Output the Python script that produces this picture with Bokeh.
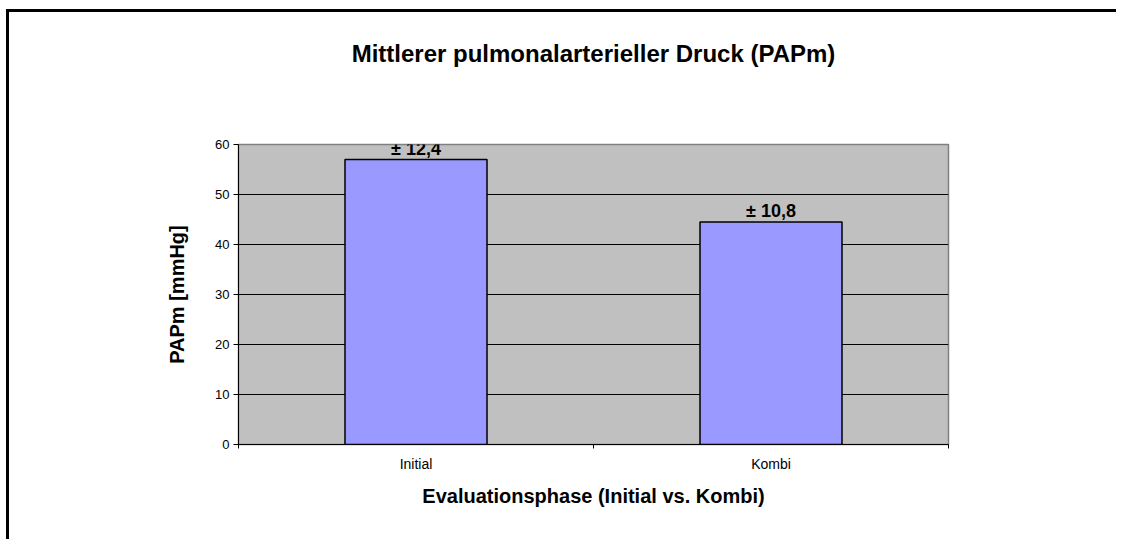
from bokeh.plotting import figure
from bokeh.models import Range1d, FixedTicker, ColumnDataSource, LabelSet, LinearAxis
from bokeh.core.properties import value
from bokeh.embed import file_html
from bokeh.resources import INLINE

# ---- data ----
categories = ["Initial", "Kombi"]
means = [57.0, 44.5]
sds = [12.4, 10.8]
y_ticks = [0, 10, 20, 30, 40, 50, 60]
title_text = "Mittlerer pulmonalarterieller Druck (PAPm)"
x_label = "Evaluationsphase (Initial vs. Kombi)"
y_label = "PAPm [mmHg]"

FONT = "Liberation Sans"

xpos = [i + 0.5 for i in range(len(categories))]
sd_text = [("± %.1f" % v).replace(".", ",") for v in sds]
src = ColumnDataSource(dict(x=xpos, top=means, label=sd_text))

W, H = 1110, 530
p = figure(width=W, height=H, output_backend="svg", toolbar_location=None,
           x_range=Range1d(0, len(categories)), y_range=Range1d(y_ticks[0], y_ticks[-1]),
           min_border_left=229, min_border_right=171, min_border_top=132, min_border_bottom=98)
p.styles = {"border-left": "3px solid black", "border-top": "3px solid black",
            "margin-left": "6px", "margin-top": "9px"}
p.title.visible = False

p.background_fill_color = "#C0C0C0"
p.border_fill_color = "white"
p.outline_line_color = "#808080"
p.outline_line_width = 1.5

p.vbar(x="x", top="top", width=0.4, source=src, fill_color="#9999FF",
       line_color="black", line_width=1.5)

labels = LabelSet(x="x", y="top", text="label", source=src, text_align="center",
                  text_baseline="alphabetic", y_offset=5, text_font=value(FONT),
                  text_font_style="bold", text_font_size="18px", text_color="black")
p.add_layout(labels)

# title drawn as the label of a bare axis above the plot (its extent shifts the centre left)
ta = LinearAxis(ticker=FixedTicker(ticks=[]), axis_line_color=None, bounds=(0, 1.4),
                major_tick_line_color=None, minor_tick_line_color=None,
                major_label_text_font_size="0px",
                axis_label=title_text, axis_label_standoff=78, axis_label_align="center",
                axis_label_text_font=FONT, axis_label_text_font_size="24px",
                axis_label_text_font_style="bold", axis_label_text_color="black")
p.add_layout(ta, "above")

# grid
p.xgrid.visible = False
p.ygrid.grid_line_color = "black"
p.ygrid.grid_line_width = 1
p.ygrid.ticker = FixedTicker(ticks=y_ticks)

# y axis
ya = p.yaxis[0]
ya.ticker = FixedTicker(ticks=y_ticks)
ya.axis_line_color = "black"
ya.major_tick_out = 5
ya.major_tick_in = 0
ya.minor_tick_line_color = None
ya.major_label_standoff = 4
ya.major_label_text_font = FONT
ya.major_label_text_font_size = "13px"
ya.major_label_text_color = "black"
ya.axis_label = y_label
ya.axis_label_text_font = FONT
ya.axis_label_text_font_size = "20px"
ya.axis_label_text_font_style = "bold"
ya.axis_label_text_color = "black"
ya.axis_label_standoff = 24

# x axis
xa = p.below[0]
xa.ticker = FixedTicker(ticks=xpos, minor_ticks=list(range(len(categories) + 1)))
xa.major_label_overrides = {x: c for x, c in zip(xpos, categories)}
xa.axis_line_color = "black"
xa.major_tick_out = 0
xa.major_tick_in = 0
xa.minor_tick_out = 4
xa.minor_tick_in = 0
xa.minor_tick_line_color = "black"
xa.major_label_standoff = 7
xa.major_label_text_font = FONT
xa.major_label_text_font_size = "14px"
xa.major_label_text_color = "black"
xa.axis_label = x_label
xa.axis_label_text_font = FONT
xa.axis_label_text_font_size = "20px"
xa.axis_label_text_font_style = "bold"
xa.axis_label_text_color = "black"
xa.axis_label_standoff = 10

open("out.html", "w").write(file_html(p, INLINE))
